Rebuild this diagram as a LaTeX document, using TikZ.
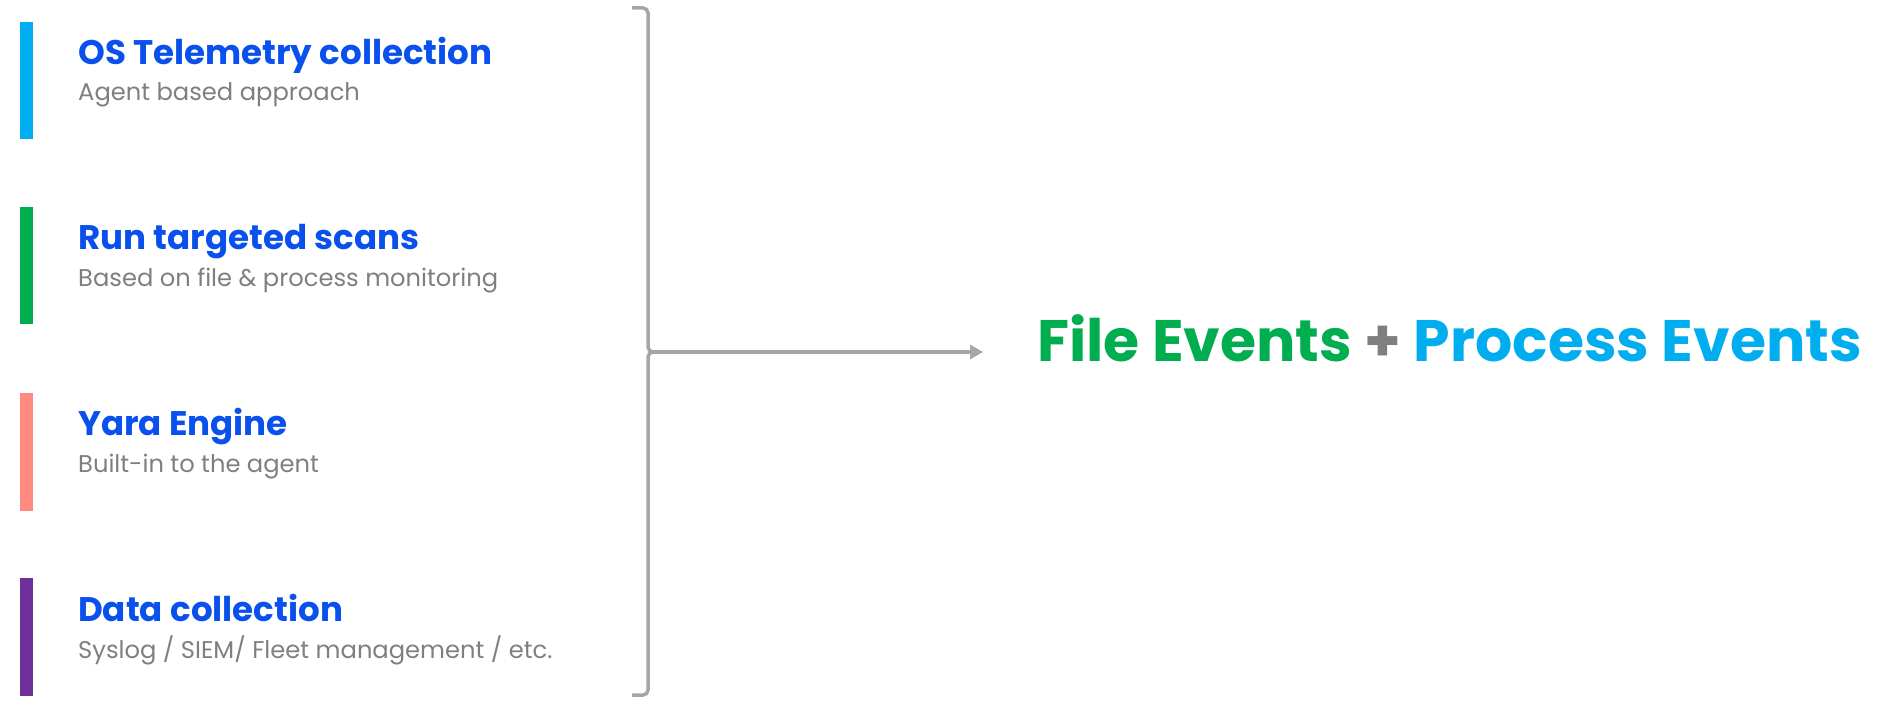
\documentclass[tikz,border=0pt]{standalone}
\usepackage{fontspec}
\setmainfont{Poppins}
\usetikzlibrary{arrows.meta}
\definecolor{titleblue}{HTML}{0A50EC}
\definecolor{subgray}{HTML}{7F7F7F}
\definecolor{bracegray}{HTML}{A6A6A6}
\definecolor{barcyan}{HTML}{00AEEF}
\definecolor{bargreen}{HTML}{00AD4F}
\definecolor{barsalmon}{HTML}{FF8A82}
\definecolor{barpurple}{HTML}{70309A}

\begin{document}
\begin{tikzpicture}[x=1pt, y=-1pt]
    \tikzstyle{every node}=[inner sep=0pt, anchor=base west]
    \tikzstyle{title} = [font=\fontsize{34.1}{37}\selectfont\bfseries, text=titleblue]
    \tikzstyle{sub} = [font=\fontsize{24.2}{26}\selectfont, text=subgray]
    \tikzstyle{brace} = [draw=bracegray, line width=3.5pt, rounded corners=5pt]
    \useasboundingbox (0,0) rectangle (1894,709);
    % colour bars
    \fill[barcyan]   (20,22)  rectangle (33,139);
    \fill[bargreen]  (20,207) rectangle (33,324);
    \fill[barsalmon] (20,393) rectangle (33,511);
    \fill[barpurple] (20,578) rectangle (33,696);
    % titles and notes
    \node[title] (telemetry) at (78,64)  {OS Telemetry collection};
    \node[sub]   (agent)     at (78,100) {Agent based approach};
    \node[title] (scans)     at (78,249) {Run targeted scans};
    \node[sub]   (monitor)   at (78,286) {Based on file \& process monitoring};
    \node[title] (yara)      at (78,435) {Yara Engine};
    \node[sub]   (builtin)   at (78,472) {Built-in to the agent};
    \node[title] (data)      at (78,621) {Data collection};
    \node[sub]   (fleet)     at (78,658) {Syslog / SIEM/ Fleet management / etc.};
    % bracket
    \coordinate (bt) at (632,8);
    \coordinate (bm) at (649,352);
    \coordinate (bb) at (632,695);
    \draw[brace] (bt) -- (648,8) -- (648,352) -- (bm);
    \draw[brace] (bm) -- (648,352) -- (648,695) -- (bb);
    % result
    \node (res) at (1037,361)
        {\fontsize{58.5}{62}\selectfont\bfseries\textcolor{bargreen}{File Events}
         \textcolor{subgray}{+} \textcolor{barcyan}{Process Events}};
    \coordinate (tip) at (983,352);
    \draw[draw=bracegray, line width=3.5pt, -{Triangle[length=13pt,width=14pt]}] (bm) -- (tip);
\end{tikzpicture}
\end{document}
